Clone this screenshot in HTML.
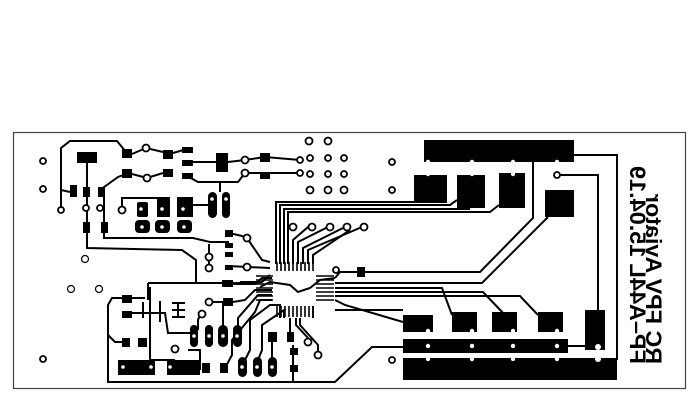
<!DOCTYPE html>
<html><head><meta charset="utf-8"><style>
html,body{margin:0;padding:0;background:#fff;}
svg{display:block;}
</style></head><body>
<svg width="700" height="403" viewBox="0 0 700 403" xmlns="http://www.w3.org/2000/svg">
<rect x="13.5" y="132.5" width="672" height="256" fill="#fff" stroke="#444" stroke-width="1.2"/>
<g fill="none" stroke="#000" stroke-width="2">
<polyline points="61,210 61,148 70,141 117,141 126,152"/>
<polyline points="87,158 87,248 182,250 196,260 196,284"/>
<line x1="148" y1="283" x2="260" y2="283"/>
<line x1="148" y1="283" x2="148" y2="300"/>
<polyline points="104,197 104,238 193,238 210,242 229,242"/>
<polyline points="132,154 146,148 163,152"/>
<polyline points="173,153 187,149"/>
<polyline points="187,162 228,162 245,160 265,157 300,160"/>
<polyline points="100,197 100,190 118,177 126,174"/>
<polyline points="132,174 147,178 163,173"/>
<polyline points="187,176 198,182 238,182 245,173 265,173 300,173"/>
<line x1="220" y1="182" x2="220" y2="192"/>
<polyline points="61,190 70,192"/>
<polyline points="122,210 122,198 162,198"/>
<polyline points="190,205 210,205"/>
<polyline points="229,233 242,236 247,238 262,260 270,262"/>
<polyline points="229,266 247,267 270,268"/>
<polyline points="209,257 209,244"/>
<line x1="209" y1="257" x2="209" y2="268"/>
<polyline points="227,284 255,284 262,278 272,278"/>
<polyline points="150,300 150,287"/>
<polyline points="122,298 112,298 108,305 108,382 335,382 372,347 403,347"/>
<polyline points="108,335 115,342 122,342"/>
<polyline points="126,298 145,298"/>
<polyline points="132,313 165,313 168,333 190,333"/>
<polyline points="150,300 150,360 175,360"/>
<polyline points="143,302 143,318"/>
<polyline points="178,302 178,318"/>
<polyline points="172,303 185,303"/>
<polyline points="172,310 185,310"/>
<polyline points="172,317 185,317"/>
<polyline points="160,301 160,322"/>
<polyline points="209,302 233,302 245,300 255,290 272,290"/>
<polyline points="202,310 198,320 198,330"/>
<polyline points="223,302 223,328"/>
<polyline points="238,330 238,318 258,295 272,295"/>
<polyline points="225,368 232,355 232,340 255,312 260,300 272,300"/>
<polyline points="245,360 250,350 250,320 270,305 280,305 280,318"/>
<polyline points="258,360 262,350 262,325 284,310 284,318"/>
<polyline points="272,360 272,340"/>
<polyline points="290,340 290,318"/>
<polyline points="293,345 293,382"/>
<polyline points="296,318 296,325 308,338 308,342"/>
<polyline points="300,318 300,325 318,345 318,355"/>
<polyline points="188,350 200,350 200,370"/>
<polyline points="276,264 276,202 414,202"/>
<polyline points="280,264 280,205 450,205 457,200"/>
<polyline points="284,264 284,209 470,209"/>
<polyline points="288,264 288,212 490,212 499,205"/>
<polyline points="293,264 293,240 308,227"/>
<polyline points="298,264 298,242 328,227"/>
<polyline points="303,264 303,248 345,227"/>
<polyline points="308,264 308,250 362,227"/>
<polyline points="313,264 313,255 350,230"/>
<polyline points="335,278 340,272 480,272 533,218 533,162"/>
<polyline points="335,283 482,283 548,217"/>
<polyline points="335,288 442,288 452,315"/>
<polyline points="335,292 483,292 505,315"/>
<polyline points="335,296 520,296 538,315"/>
<polyline points="335,300 345,305 403,322"/>
<polyline points="335,310 403,310"/>
<polyline points="557,175 598,175 598,347"/>
<polyline points="574,155 617,155 617,360"/>
<polyline points="568,346 598,346"/>
<polyline points="361,272 361,268"/>
<polyline points="313,306 313,318"/>
<polyline points="240,282 262,282 270,275"/>
<polyline points="260,287 270,282 290,285 298,292 310,288 320,280 335,278"/>
</g>
<g stroke="#000" stroke-width="1.6">
<path d="M277,262v9M281,262v9M285,262v9M289,262v9M293,262v9M297,262v9M301,262v9M305,262v9M309,262v9M313,262v9"/>
<path d="M277,306v11M281,306v11M285,306v11M289,306v11M293,306v11M297,306v11M301,306v11M305,306v11M309,306v11M313,306v11"/>
<path d="M256,276h17M256,280h17M256,284h17M256,288h17M256,292h17M256,296h17M256,300h17"/>
<path d="M316,276h18M316,280h18M316,284h18M316,288h18M316,292h18M316,296h18M316,300h18"/>
</g>
<g fill="#000">
<rect x="77" y="152" width="20" height="11"/>
<rect x="122" y="149" width="10" height="9"/>
<rect x="163" y="150" width="10" height="9"/>
<rect x="182" y="147" width="11" height="6"/>
<rect x="182" y="160" width="11" height="6"/>
<rect x="216" y="153" width="12" height="19"/>
<rect x="260" y="153" width="10" height="9"/>
<rect x="122" y="169" width="10" height="9"/>
<rect x="163" y="169" width="10" height="8"/>
<rect x="182" y="173" width="11" height="6"/>
<rect x="260" y="172" width="10" height="7"/>
<rect x="70" y="185" width="7" height="12"/>
<rect x="83" y="187" width="7" height="10"/>
<rect x="98" y="187" width="7" height="10"/>
<rect x="83" y="222" width="7" height="11"/>
<rect x="101" y="222" width="7" height="11"/>
<rect x="137" y="202" width="11" height="15" rx="2"/>
<rect x="157" y="197" width="13" height="20"/>
<rect x="177" y="197" width="16" height="20"/>
<rect x="135" y="220" width="15" height="13" rx="4"/>
<rect x="155" y="220" width="15" height="13" rx="4"/>
<rect x="177" y="220" width="15" height="13" rx="4"/>
<rect x="208" y="192" width="9" height="26" rx="4.5"/>
<rect x="222" y="192" width="8" height="26" rx="4"/>
<rect x="225" y="230" width="8" height="7"/>
<rect x="225" y="243" width="8" height="5"/>
<rect x="225" y="252" width="8" height="5"/>
<rect x="225" y="265" width="8" height="5"/>
<rect x="222" y="280" width="11" height="7"/>
<rect x="223" y="298" width="10" height="8"/>
<rect x="122" y="295" width="10" height="8"/>
<rect x="122" y="311" width="10" height="7"/>
<rect x="122" y="338" width="8" height="9"/>
<rect x="138" y="338" width="9" height="9"/>
<rect x="118" y="360" width="37" height="15"/>
<rect x="167" y="360" width="33" height="15"/>
<rect x="202" y="363" width="8" height="10"/>
<rect x="220" y="363" width="8" height="10"/>
<rect x="190" y="325" width="8" height="22" rx="4"/>
<rect x="205" y="325" width="8" height="22" rx="4"/>
<rect x="218" y="325" width="10" height="22" rx="5"/>
<rect x="233" y="325" width="9" height="22" rx="4.5"/>
<rect x="238" y="357" width="9" height="20" rx="4.5"/>
<rect x="253" y="357" width="9" height="20" rx="4.5"/>
<rect x="268" y="357" width="9" height="20" rx="4.5"/>
<rect x="268" y="332" width="9" height="10"/>
<rect x="287" y="332" width="7" height="10"/>
<rect x="290" y="348" width="8" height="7"/>
<rect x="290" y="365" width="8" height="7"/>
<rect x="357" y="267" width="8" height="10"/>
<rect x="424" y="140" width="150" height="22"/>
<rect x="414" y="175" width="33" height="28"/>
<rect x="457" y="175" width="28" height="33"/>
<rect x="499" y="173" width="26" height="35"/>
<rect x="545" y="190" width="29" height="27"/>
<rect x="403" y="315" width="30" height="17"/>
<rect x="452" y="312" width="25" height="20"/>
<rect x="492" y="312" width="25" height="20"/>
<rect x="538" y="312" width="25" height="20"/>
<rect x="585" y="310" width="20" height="40"/>
<rect x="403" y="339" width="165" height="14"/>
<rect x="403" y="358" width="214" height="22"/>
</g>
<g fill="#fff" stroke="#000" stroke-width="1.8">
<circle cx="43" cy="161" r="3"/><circle cx="43" cy="189" r="3"/><circle cx="43" cy="359" r="3"/>
<circle cx="61" cy="210" r="3"/><circle cx="86" cy="208" r="3"/><circle cx="100" cy="208" r="3"/>
<circle cx="146" cy="148" r="3.5"/><circle cx="147" cy="178" r="3.5"/>
<circle cx="245" cy="160" r="3.5"/><circle cx="245" cy="173" r="3.5"/>
<circle cx="300" cy="160" r="3"/><circle cx="300" cy="173" r="3"/>
<circle cx="309" cy="141" r="3.5"/><circle cx="328" cy="141" r="3.5"/>
<circle cx="310" cy="158" r="3"/><circle cx="328" cy="158" r="3"/><circle cx="344" cy="158" r="3"/>
<circle cx="310" cy="174" r="3"/><circle cx="328" cy="174" r="3"/><circle cx="344" cy="174" r="3"/>
<circle cx="310" cy="190" r="3.5"/><circle cx="328" cy="190" r="3.5"/><circle cx="344" cy="190" r="3.5"/>
<circle cx="122" cy="210" r="3.5"/>
<circle cx="293" cy="227" r="3.5"/><circle cx="312" cy="227" r="3.5"/><circle cx="330" cy="227" r="3.5"/><circle cx="347" cy="227" r="3.5"/><circle cx="364" cy="227" r="3.5"/>
<circle cx="85" cy="259" r="3.5" stroke-width="1.2"/><circle cx="71" cy="289" r="3.5" stroke-width="1.2"/><circle cx="99" cy="289" r="3.5" stroke-width="1.2"/>
<circle cx="209" cy="257" r="3.5"/><circle cx="209" cy="268" r="3.5"/>
<circle cx="247" cy="238" r="3.5"/><circle cx="247" cy="267" r="3.5"/>
<circle cx="209" cy="302" r="3.5"/><circle cx="202" cy="314" r="3.5"/>
<circle cx="175" cy="349" r="3.5"/>
<circle cx="308" cy="342" r="3.5"/><circle cx="318" cy="355" r="3.5"/>
<circle cx="336" cy="270" r="3"/>
<circle cx="392" cy="162" r="3"/><circle cx="392" cy="190" r="3"/><circle cx="392" cy="360" r="3"/>
<circle cx="557" cy="175" r="3"/>
</g>
<g fill="#fff">
<circle cx="428" cy="162" r="2.2"/><circle cx="472" cy="162" r="2.2"/><circle cx="513" cy="162" r="2.2"/><circle cx="557" cy="162" r="2.2"/>
<circle cx="428" cy="174" r="2.2"/><circle cx="472" cy="174" r="2.2"/><circle cx="513" cy="174" r="2.2"/>
<circle cx="428" cy="331" r="2.2"/><circle cx="472" cy="331" r="2.2"/><circle cx="513" cy="331" r="2.2"/><circle cx="557" cy="331" r="2.2"/>
<circle cx="428" cy="346" r="2.2"/><circle cx="472" cy="346" r="2.2"/><circle cx="513" cy="346" r="2.2"/><circle cx="557" cy="346" r="2.2"/>
<circle cx="428" cy="359" r="2.2"/><circle cx="472" cy="359" r="2.2"/><circle cx="513" cy="359" r="2.2"/><circle cx="557" cy="359" r="2.2"/>
<circle cx="598" cy="347" r="3"/><circle cx="598" cy="359" r="3"/>
<circle cx="141" cy="209" r="1.8"/><circle cx="162" cy="209" r="1.8"/><circle cx="183" cy="209" r="1.8"/>
<circle cx="142" cy="227" r="1.8"/><circle cx="162" cy="227" r="1.8"/><circle cx="184" cy="227" r="1.8"/>
<circle cx="194" cy="336" r="1.8"/><circle cx="209" cy="336" r="1.8"/><circle cx="223" cy="336" r="1.8"/><circle cx="237" cy="336" r="1.8"/>
<circle cx="242" cy="367" r="1.8"/><circle cx="257" cy="367" r="1.8"/><circle cx="272" cy="367" r="1.8"/>
<circle cx="212" cy="199" r="1.8"/><circle cx="226" cy="199" r="1.8"/>
<circle cx="123" cy="367" r="1.8"/><circle cx="151" cy="367" r="1.8"/><circle cx="170" cy="367" r="1.8"/>
</g>
<g font-family="Liberation Sans, sans-serif" font-size="22" font-weight="bold" fill="#000">
<text transform="translate(646,364) scale(-1,1) rotate(-90)" textLength="170" lengthAdjust="spacingAndGlyphs">RC FPV Aviator</text>
<text transform="translate(630,364) scale(-1,1) rotate(-90)" textLength="198" lengthAdjust="spacingAndGlyphs">FP–A44L 15.04.19</text>
</g>
</svg>
</body></html>
